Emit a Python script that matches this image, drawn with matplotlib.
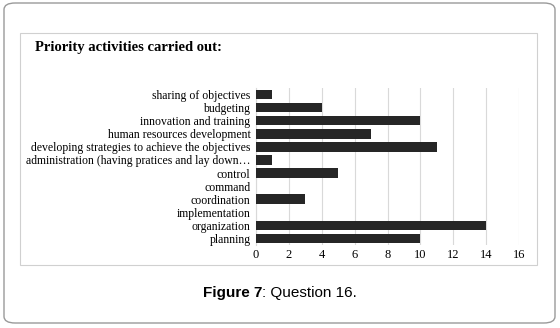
import matplotlib
matplotlib.use('Agg')
import matplotlib.pyplot as plt
from matplotlib.patches import FancyBboxPatch, Rectangle

# data (top to bottom as shown)
categories = ['sharing of objectives', 'budgeting', 'innovation and training',
              'human resources development',
              'developing strategies to achieve the objectives',
              'administration (having pratices and lay down\u2026',
              'control', 'command', 'coordination', 'implementation',
              'organization', 'planning']
values = [1, 4, 10, 7, 11, 1, 5, 0, 3, 0, 14, 10]
xticks = [0, 2, 4, 6, 8, 10, 12, 14, 16]

W, H = 560, 328
fig = plt.figure(figsize=(W / 100, H / 100), dpi=100)

def px(x, y, w, h):
    # pixel box (top-left origin) -> figure fraction
    return x / W, 1 - (y + h) / H, w / W, h / H

# outer rounded frame
ox, oy, ow, oh = px(4, 3, 551, 320)
fig.patches.append(FancyBboxPatch((ox, oy), ow, oh, boxstyle='round,pad=0,rounding_size=0.02',
                                  transform=fig.transFigure, facecolor='white',
                                  edgecolor='#9a9a9a', linewidth=1.0, zorder=-10))
# inner chart frame
ix, iy, iw, ih = px(20, 33, 517, 232)
fig.patches.append(Rectangle((ix, iy), iw, ih, transform=fig.transFigure,
                             facecolor='white', edgecolor='#d0d0d0', linewidth=0.8, zorder=-9))

ax = fig.add_axes(px(256, 88, 263, 157))
ypos = list(range(len(categories)))[::-1]
ax.barh(ypos, values, height=0.72, color='#262626', zorder=3)
ax.set_xlim(0, 16)
ax.set_ylim(-0.5, len(categories) - 0.5)
ax.set_xticks(xticks)
ax.set_xticklabels([str(t) for t in xticks], fontfamily='Liberation Serif', fontsize=9)
ax.set_yticks(ypos)
ax.set_yticklabels(categories, fontfamily='Liberation Serif', fontsize=8.5)
ax.tick_params(length=0, pad=3)
ax.tick_params(axis='y', pad=4)
ax.grid(axis='x', color='#d9d9d9', linewidth=0.8, zorder=0)
for s in ['top', 'right', 'bottom']:
    ax.spines[s].set_visible(False)
ax.spines['left'].set_color('#d9d9d9')
ax.spines['left'].set_linewidth(0.8)
ax.set_facecolor('none')

fig.text(35 / W, 1 - 47 / H, 'Priority activities carried out:', fontfamily='Liberation Serif',
         fontweight='bold', fontsize=10.5, va='center', ha='left')

t1 = fig.text(203 / W, 1 - 293 / H, 'Figure 7', fontfamily='Liberation Sans',
              fontweight='bold', fontsize=11, va='center', ha='left')
fig.canvas.draw()
bb = t1.get_window_extent()
fig.text(bb.x1 / W, 1 - 293 / H, ': Question 16.', fontfamily='Liberation Sans',
         fontsize=11, va='center', ha='left')

fig.savefig('out.png', dpi=100)
